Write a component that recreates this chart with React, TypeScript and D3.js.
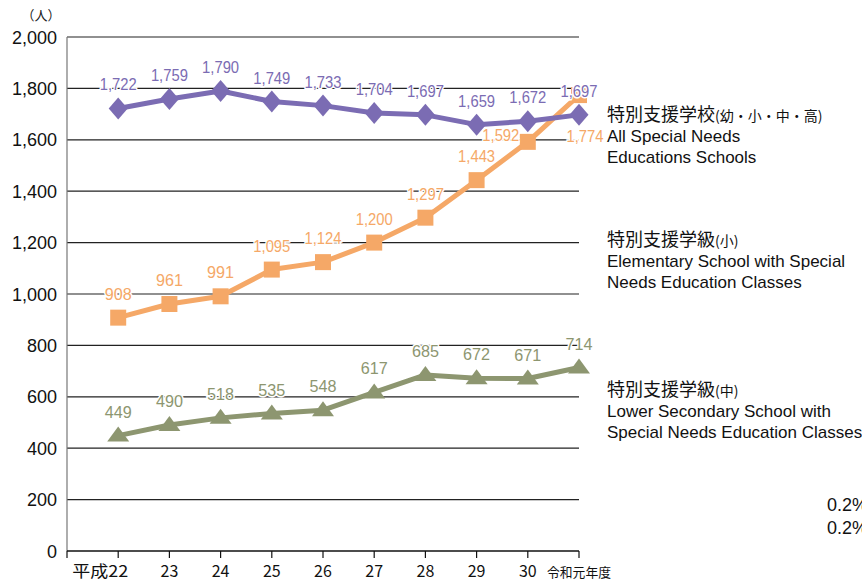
import { useEffect, useRef } from "react";
import * as d3 from "d3";

const years = ["平成22", "23", "24", "25", "26", "27", "28", "29", "30", "令和元年度"];
const schoolsAll = [1722, 1759, 1790, 1749, 1733, 1704, 1697, 1659, 1672, 1697];
const classesElem = [908, 961, 991, 1095, 1124, 1200, 1297, 1443, 1592, 1774];
const classesLower = [449, 490, 518, 535, 548, 617, 685, 672, 671, 714];
const yTicks = [0, 200, 400, 600, 800, 1000, 1200, 1400, 1600, 1800, 2000];

const PURPLE = "#7b6cb3";
const ORANGE = "#f5a867";
const GREEN = "#8d9670";

// simple custom marker shapes (w x h box)
const diamond = (w: number, h: number) => ({
  draw(ctx: any) {
    ctx.moveTo(0, -h / 2); ctx.lineTo(w / 2, 0); ctx.lineTo(0, h / 2); ctx.lineTo(-w / 2, 0); ctx.closePath();
  },
});
const triangle = (w: number, h: number) => ({
  draw(ctx: any) {
    ctx.moveTo(0, -h * 0.6); ctx.lineTo(w / 2, h * 0.4); ctx.lineTo(-w / 2, h * 0.4); ctx.closePath();
  },
});
const square = (s: number) => ({
  draw(ctx: any) {
    ctx.rect(-s / 2, -s / 2, s, s);
  },
});

export default function App() {
  const svgRef = useRef<SVGSVGElement>(null);

  useEffect(() => {
    if (!svgRef.current) return;
    const W = 862, H = 582;
    const left = 67, right = 579, top = 37, bottom = 551;
    const font = "'Liberation Sans', Arial, sans-serif";
    const jpFont = "'Noto Sans CJK JP', sans-serif";

    const svg = d3.select(svgRef.current);
    svg.selectAll("*").remove();
    svg.attr("width", W).attr("height", H);

    const x = d3.scaleLinear().domain([-1, years.length - 1]).range([left, right]);
    const y = d3.scaleLinear().domain([0, 2000]).range([bottom, top]);

    // grid lines
    svg.append("g").selectAll("line")
      .data(yTicks.filter(d => d > 0))
      .enter().append("line")
      .attr("x1", left).attr("x2", right)
      .attr("y1", d => y(d)).attr("y2", d => y(d))
      .attr("stroke", "#222").attr("stroke-width", 1.2);

    // y axis
    svg.append("line")
      .attr("x1", left).attr("x2", left)
      .attr("y1", top).attr("y2", bottom)
      .attr("stroke", "#777").attr("stroke-width", 1.2);
    svg.append("g").selectAll("text")
      .data(yTicks).enter().append("text")
      .attr("x", 57).attr("y", d => y(d) + 6.5)
      .attr("text-anchor", "end")
      .attr("font-family", font).attr("font-size", 18)
      .attr("fill", "#111")
      .text(d => d3.format(",")(d));
    svg.append("text")
      .attr("x", 41).attr("y", 20)
      .attr("text-anchor", "middle")
      .attr("font-family", jpFont).attr("font-size", 13)
      .attr("fill", "#222")
      .text("（人）");

    // x axis
    svg.append("line")
      .attr("x1", left).attr("x2", right)
      .attr("y1", bottom).attr("y2", bottom)
      .attr("stroke", "#111").attr("stroke-width", 1.5);
    svg.append("g").selectAll("line")
      .data(d3.range(-1, years.length))
      .enter().append("line")
      .attr("x1", d => x(d)).attr("x2", d => x(d))
      .attr("y1", bottom).attr("y2", bottom + 7)
      .attr("stroke", "#111").attr("stroke-width", 1.2);
    svg.append("g").selectAll("text")
      .data(years).enter().append("text")
      .attr("x", (_, i) => x(i) + (i === 0 ? -18 : 0))
      .attr("y", 577)
      .attr("text-anchor", "middle")
      .attr("font-family", jpFont)
      .attr("font-size", (_, i) => (i === years.length - 1 ? 13 : 16))
      .attr("textLength", (_, i) => (i === 0 ? 56 : i === years.length - 1 ? 64 : null))
      .attr("lengthAdjust", "spacingAndGlyphs")
      .attr("fill", "#111")
      .text(d => d);

    const line = d3.line<number>().x((_, i) => x(i)).y(d => y(d));

    const series = [
      { values: classesLower, color: GREEN, shape: triangle(22, 15) },
      { values: classesElem, color: ORANGE, shape: square(16) },
      { values: schoolsAll, color: PURPLE, shape: diamond(19, 22) },
    ];

    series.forEach(s => {
      svg.append("path")
        .attr("d", line(s.values))
        .attr("fill", "none")
        .attr("stroke", s.color)
        .attr("stroke-width", 5)
        .attr("stroke-linejoin", "round");
      svg.append("g").selectAll("path")
        .data(s.values).enter().append("path")
        .attr("transform", (d, i) => `translate(${x(i)},${y(d)})`)
        .attr("d", d3.symbol(s.shape as any, 1)())
        .attr("fill", s.color);
    });

    // value labels, with a white halo like the original
    const labelPos = (s: typeof series[number], d: number, i: number) => {
      if (s.color === ORANGE && i === 8) return [x(i) - 27, y(d) - 1];
      if (s.color === ORANGE && i === 9) return [x(i) + 6, y(d) + 47];
      return [x(i), y(d) - 18];
    };
    series.forEach(s => {
      svg.append("g").selectAll("text")
        .data(s.values).enter().append("text")
        .attr("x", (d, i) => labelPos(s, d, i)[0])
        .attr("y", (d, i) => labelPos(s, d, i)[1])
        .attr("text-anchor", "middle")
        .attr("font-family", font).attr("font-size", 17)
        .attr("textLength", d => (d >= 1000 ? 37 : 27))
        .attr("lengthAdjust", "spacingAndGlyphs")
        .attr("fill", s.color)
        .attr("stroke", "#fff").attr("stroke-width", 3)
        .attr("paint-order", "stroke")
        .text(d => d3.format(",")(d));
    });

    // legend
    const legends = [
      { jp: "特別支援学校", sub: "(幼・小・中・高)", en: ["All Special Needs", "Educations Schools"], y0: 121 },
      { jp: "特別支援学級", sub: "(小)", en: ["Elementary School with Special", "Needs Education Classes"], y0: 246 },
      { jp: "特別支援学級", sub: "(中)", en: ["Lower Secondary School with", "Special Needs Education Classes"], y0: 396 },
    ];
    legends.forEach(l => {
      const t = svg.append("text")
        .attr("x", 607).attr("y", l.y0)
        .attr("font-family", jpFont)
        .attr("fill", "#111");
      t.append("tspan").attr("font-size", 18).text(l.jp);
      t.append("tspan").attr("font-size", 14).text(l.sub);
      l.en.forEach((e, k) => {
        svg.append("text")
          .attr("x", 607).attr("y", l.y0 + 21 + k * 21)
          .attr("font-family", font).attr("font-size", 17)
          .attr("fill", "#111")
          .text(e);
      });
    });

    ["0.2%", "0.2%"].forEach((t, k) => {
      svg.append("text")
        .attr("x", 827).attr("y", 511 + k * 23)
        .attr("font-family", font).attr("font-size", 18)
        .attr("fill", "#111")
        .text(t);
    });
  }, []);

  return (
    <div style={{ position: "absolute", left: 0, top: 0, background: "#fff" }}>
      <svg ref={svgRef} style={{ display: "block" }}></svg>
    </div>
  );
}
